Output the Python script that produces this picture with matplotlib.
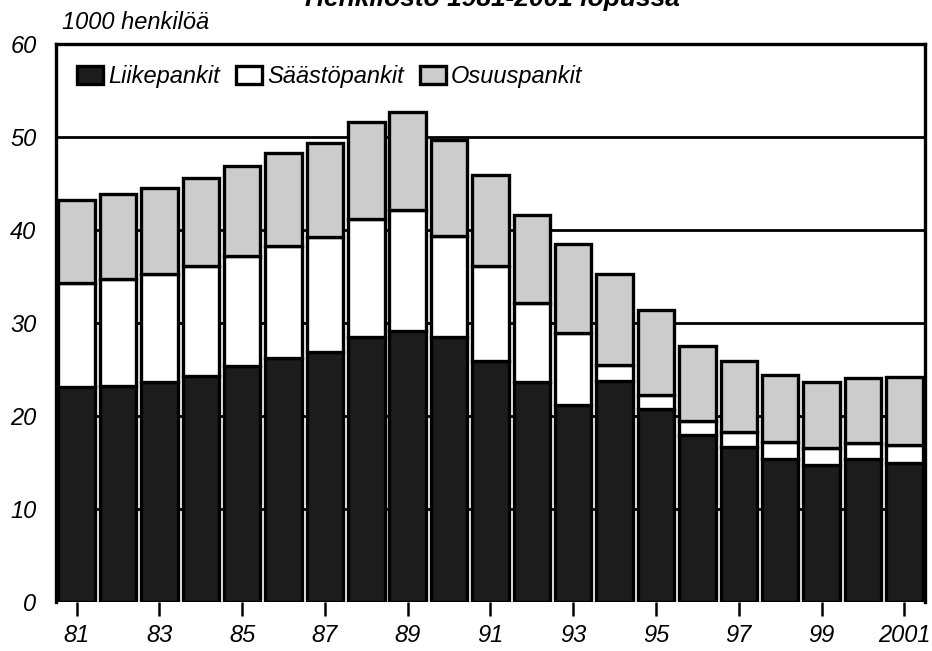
import matplotlib.pyplot as plt
import numpy as np

plt.rcParams['font.family'] = ['Liberation Sans', 'DejaVu Sans']

# Henkilöstö vuoden lopussa, 1000 henkilöä
years = list(range(1981, 2002))
liikepankit = [23.1, 23.2, 23.7, 24.3, 25.4, 26.2, 26.9, 28.5, 29.1, 28.5, 25.9,
               23.7, 21.2, 23.8, 20.8, 18.0, 16.7, 15.4, 14.7, 15.4, 14.9]
saastopankit = [11.2, 11.5, 11.6, 11.8, 11.8, 12.1, 12.3, 12.7, 13.1, 10.9, 10.2,
                8.5, 7.7, 1.7, 1.5, 1.5, 1.6, 1.8, 1.9, 1.7, 2.0]
osuuspankit = [8.9, 9.2, 9.2, 9.5, 9.7, 10.0, 10.2, 10.4, 10.5, 10.3, 9.8,
               9.4, 9.6, 9.8, 9.1, 8.0, 7.6, 7.2, 7.1, 7.0, 7.3]
tick_years = years[::2]
tick_labels = ['81', '83', '85', '87', '89', '91', '93', '95', '97', '99', '2001']

fig = plt.figure(figsize=(9.32, 6.51), dpi=100)
ax = fig.add_axes([0.060, 0.0753, 0.9325, 0.857])

x = np.arange(len(years))
l = np.array(liikepankit)
s = np.array(saastopankit)
o = np.array(osuuspankit)
w = 0.88
kw = dict(width=w, edgecolor='black', linewidth=2.4, zorder=3)
ax.bar(x, l, color='#1c1c1c', label='Liikepankit', **kw)
ax.bar(x, s, bottom=l, color='white', label='Säästöpankit', **kw)
ax.bar(x, o, bottom=l + s, color='#cccccc', label='Osuuspankit', **kw)

ax.set_xlim(-0.5, len(years) - 0.5)
ax.set_ylim(0, 60)
ax.set_yticks(range(0, 61, 10))
ax.set_yticklabels([str(v) for v in range(0, 61, 10)], fontsize=17, style='italic')
ax.tick_params(axis='y', length=0, pad=14)
ax.set_xticks([years.index(y) for y in tick_years])
ax.set_xticklabels(tick_labels, fontsize=17, style='italic')
ax.tick_params(axis='x', direction='out', length=10, width=1.8, pad=6)

for v in range(10, 60, 10):
    ax.axhline(v, color='black', linewidth=2, zorder=1)
for side in ['left', 'right', 'top']:
    ax.spines[side].set_linewidth(2.4)
ax.spines['bottom'].set_visible(False)

ax.legend(loc='upper left', ncol=3, frameon=False,
          prop={'style': 'italic', 'size': 17},
          handlelength=1.1, handleheight=0.8, handletextpad=0.2,
          columnspacing=0.7, borderaxespad=0.5, bbox_to_anchor=(0.0, 1.0))

fig.text(0.066, 0.948, '1000 henkilöä', fontsize=17, style='italic', va='bottom')
# otsikko on lähteessä leikkautunut yläreunasta
fig.text(0.73, 0.991, 'Henkilöstö 1981-2001 lopussa', fontsize=19,
         style='italic', weight='bold', ha='right', va='baseline')

fig.savefig('out.png', dpi=100)
